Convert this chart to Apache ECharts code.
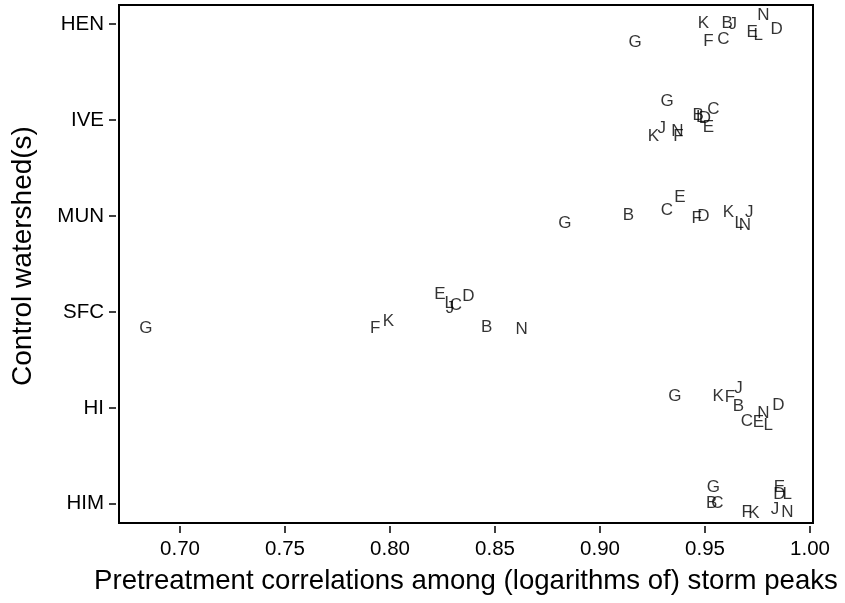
<!DOCTYPE html>
<html>
<head>
<meta charset="utf-8">
<title>Pretreatment correlations by control watershed</title>
<script src="https://cdn.jsdelivr.net/npm/echarts@6/dist/echarts.min.js"></script>
<style>
  html, body { margin: 0; padding: 0; background: #fff; }
  #chart { width: 845px; height: 603px; }
</style>
</head>
<body>
<div id="chart"></div>
<script>
// Control watersheds, bottom to top; each row sits at integer position 1..6
const watersheds = ['HIM', 'HI', 'SFC', 'MUN', 'IVE', 'HEN'];
const xTicks = [0.70, 0.75, 0.80, 0.85, 0.90, 0.95, 1.00];

// Each row: treated-watershed letter, pretreatment correlation, plotted row position (jittered)
const henLetters = ['G', 'K', 'F', 'C', 'B', 'J', 'E', 'L', 'N', 'D'];
const henCorr    = [0.9167, 0.9492, 0.9516, 0.9587, 0.9606, 0.9632, 0.9725, 0.9754, 0.9778, 0.9841];
const henRow     = [5.816, 6.007, 5.826, 5.841, 6.007, 6.000, 5.920, 5.885, 6.094, 5.945];

const iveLetters = ['G', 'B', 'L', 'C', 'D', 'E', 'K', 'J', 'N', 'F'];
const iveCorr    = [0.9320, 0.9468, 0.9480, 0.9540, 0.9500, 0.9516, 0.9254, 0.9294, 0.9368, 0.9373];
const iveRow     = [5.191, 5.052, 5.030, 5.115, 5.018, 4.930, 4.826, 4.914, 4.885, 4.826];

const munLetters = ['G', 'B', 'C', 'E', 'F', 'D', 'K', 'J', 'L', 'N'];
const munCorr    = [0.8833, 0.9135, 0.9318, 0.9381, 0.9460, 0.9492, 0.9611, 0.9711, 0.9663, 0.9690];
const munRow     = [3.924, 4.010, 4.063, 4.195, 3.976, 4.000, 4.034, 4.034, 3.924, 3.906];

const sfcLetters = ['G', 'F', 'K', 'E', 'L', 'J', 'C', 'D', 'B', 'N'];
const sfcCorr    = [0.6838, 0.7929, 0.7992, 0.8238, 0.8282, 0.8286, 0.8314, 0.8373, 0.8460, 0.8627];
const sfcRow     = [2.830, 2.830, 2.899, 3.184, 3.091, 3.039, 3.073, 3.159, 2.836, 2.823];

const hiLetters  = ['G', 'K', 'F', 'J', 'B', 'C', 'E', 'N', 'L', 'D'];
const hiCorr     = [0.9357, 0.9563, 0.9619, 0.9659, 0.9659, 0.9699, 0.9754, 0.9778, 0.9801, 0.9849];
const hiRow      = [2.118, 2.118, 2.111, 2.205, 2.014, 1.857, 1.847, 1.945, 1.823, 2.031];

const himLetters = ['G', 'B', 'C', 'F', 'K', 'E', 'D', 'L', 'J', 'N'];
const himCorr    = [0.9540, 0.9532, 0.9559, 0.9699, 0.9733, 0.9854, 0.9854, 0.9892, 0.9833, 0.9892];
const himRow     = [1.174, 1.007, 1.007, 0.909, 0.896, 1.177, 1.104, 1.104, 0.938, 0.909];

function rowPoints(letters, corr, row) {
  return letters.map((l, i) => [corr[i], row[i], l]);
}

const points = [].concat(
  rowPoints(himLetters, himCorr, himRow),
  rowPoints(hiLetters, hiCorr, hiRow),
  rowPoints(sfcLetters, sfcCorr, sfcRow),
  rowPoints(munLetters, munCorr, munRow),
  rowPoints(iveLetters, iveCorr, iveRow),
  rowPoints(henLetters, henCorr, henRow)
);

const FONT = '"Liberation Sans", Arial, Helvetica, sans-serif';

const chart = echarts.init(document.getElementById('chart'), null, { renderer: 'canvas' });
chart.setOption({
  animation: false,
  backgroundColor: '#fff',
  textStyle: { fontFamily: FONT, color: '#000' },
  grid: {
    left: 119, right: 32, top: 5, bottom: 80,
    show: true, borderColor: '#000', borderWidth: 2, backgroundColor: 'transparent'
  },
  xAxis: {
    type: 'value',
    min: 0.67095,
    max: 1.00143,
    offset: 3,
    splitLine: { show: false },
    axisLine: { show: false },
    axisTick: { show: true, length: 7, lineStyle: { color: '#000', width: 1.5 }, customValues: xTicks },
    axisLabel: {
      customValues: xTicks,
      formatter: v => v.toFixed(2),
      color: '#000', fontFamily: FONT, fontSize: 20.5, margin: 13
    },
    name: 'Pretreatment correlations among (logarithms of) storm peaks',
    nameLocation: 'middle',
    nameGap: 41,
    nameTextStyle: { color: '#000', fontFamily: FONT, fontSize: 27.6 }
  },
  yAxis: {
    type: 'value',
    min: 0.8,
    max: 6.2,
    offset: 3,
    splitLine: { show: false },
    axisLine: { show: false },
    axisTick: { show: true, length: 7, lineStyle: { color: '#000', width: 1.5 }, customValues: [1, 2, 3, 4, 5, 6] },
    axisLabel: {
      customValues: [1, 2, 3, 4, 5, 6],
      formatter: v => watersheds[Math.round(v) - 1],
      color: '#000', fontFamily: FONT, fontSize: 20.5, margin: 12
    },
    name: 'Control watershed(s)',
    nameLocation: 'middle',
    nameRotate: 90,
    nameGap: 79,
    nameTextStyle: { color: '#000', fontFamily: FONT, fontSize: 28, padding: [0, 0, 0, 16] }
  },
  series: [{
    type: 'scatter',
    data: points,
    symbolSize: 1,
    itemStyle: { color: 'rgba(0,0,0,0)' },
    silent: true,
    label: {
      show: true,
      position: 'inside',
      formatter: p => p.value[2],
      color: '#000',
      fontFamily: FONT,
      fontSize: 17
    }
  }]
});
</script>
</body>
</html>
